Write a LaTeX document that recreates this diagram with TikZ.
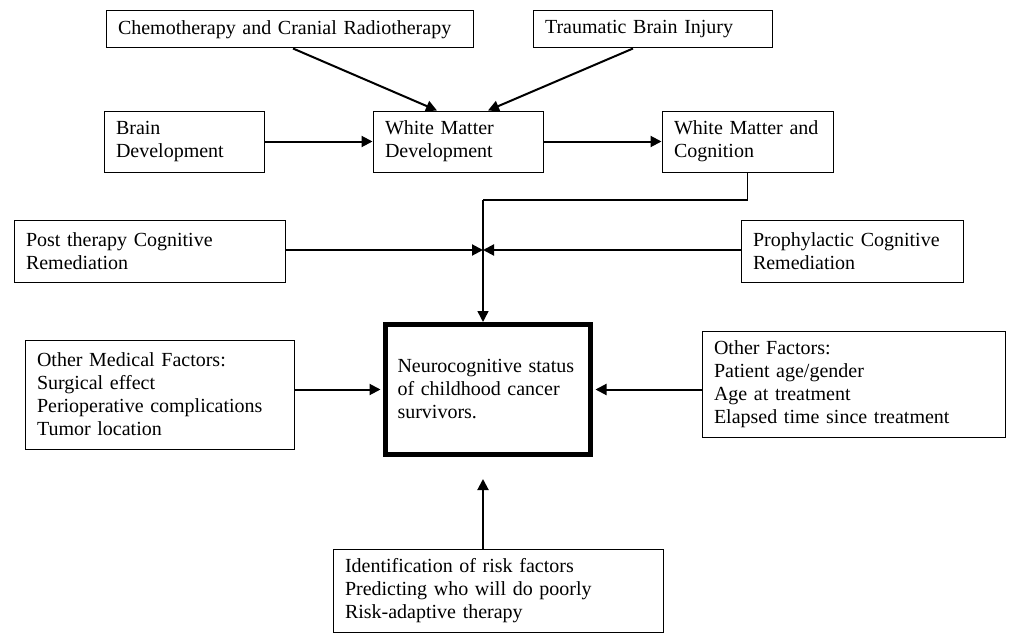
\documentclass[tikz,border=0pt]{standalone}
\usepackage{fontspec}
\setmainfont{Liberation Serif}
\usetikzlibrary{arrows.meta}
\begin{document}
\begin{tikzpicture}[x=1pt,y=-1pt,
  box/.style={draw, line width=1pt, rectangle, align=left, inner xsep=12pt, inner ysep=0pt,
    font=\fontsize{20}{23}\selectfont},
  arr/.style={line width=2pt, -{Triangle[length=11pt,width=11pt]}},
  thin/.style={line width=1.5pt}]
\useasboundingbox (0,0) rectangle (1010,634);
\node[box, text width=343pt, minimum height=37pt] (chemo) at (289.5,29.5) {Chemotherapy and Cranial Radiotherapy};
\node[box, text width=215pt, minimum height=37pt] (tbi) at (652.5,29.5) {Traumatic Brain Injury};
\node[box, text width=136pt, minimum height=61pt] (brain) at (184,141.5) {Brain\\Development};
\node[box, text width=146pt, minimum height=61pt] (wmd) at (458,141.5) {White Matter\\Development};
\node[box, text width=147pt, minimum height=61pt] (wmc) at (747.5,141.5) {White Matter and\\Cognition};
\node[box, text width=247pt, minimum height=62pt] (post) at (149.5,251) {Post therapy Cognitive\\Remediation};
\node[box, text width=198pt, minimum height=62pt] (proph) at (852,251) {Prophylactic Cognitive\\Remediation};
\node[box, text width=245pt, minimum height=109pt] (med) at (159.5,394.5) {Other Medical Factors:\\Surgical effect\\Perioperative complications\\Tumor location};
\node[box, line width=5pt, text width=181pt, minimum height=130pt] (neuro) at (488,389.5) {Neurocognitive status\\of childhood cancer\\survivors.};
\node[box, text width=279pt, minimum height=106pt] (other) at (853.5,384) {Other Factors:\\Patient age/gender\\Age at treatment\\Elapsed time since treatment};
\node[box, text width=306pt, minimum height=83pt] (ident) at (498,590.5) {Identification of risk factors\\Predicting who will do poorly\\Risk-adaptive therapy};
\coordinate (bend) at (483,200);
\coordinate (mid) at (483,250);
\coordinate (idtip) at (483,479);
\draw[arr] ([xshift=3.5pt]chemo.south) -- ([xshift=-21pt]wmd.north);
\draw[arr] ([xshift=-19.5pt]tbi.south) -- ([xshift=30pt]wmd.north);
\draw[arr] (brain.east) -- (wmd.west);
\draw[arr] (wmd.east) -- (wmc.west);
\draw[thin] (wmc.south) |- (bend);
\draw[thin, -{Triangle[length=11pt,width=11pt]}] (bend) -- ([xshift=-5pt]neuro.north);
\draw[arr] (post.east |- mid) -- (mid);
\draw[arr] (proph.west |- mid) -- (mid);
\draw[arr] (neuro.west -| med.east) -- ([xshift=-2.5pt]neuro.west);
\draw[arr] (neuro.east -| other.west) -- ([xshift=2.5pt]neuro.east);
\draw[arr] (ident.north -| idtip) -- (idtip);
\end{tikzpicture}
\end{document}
